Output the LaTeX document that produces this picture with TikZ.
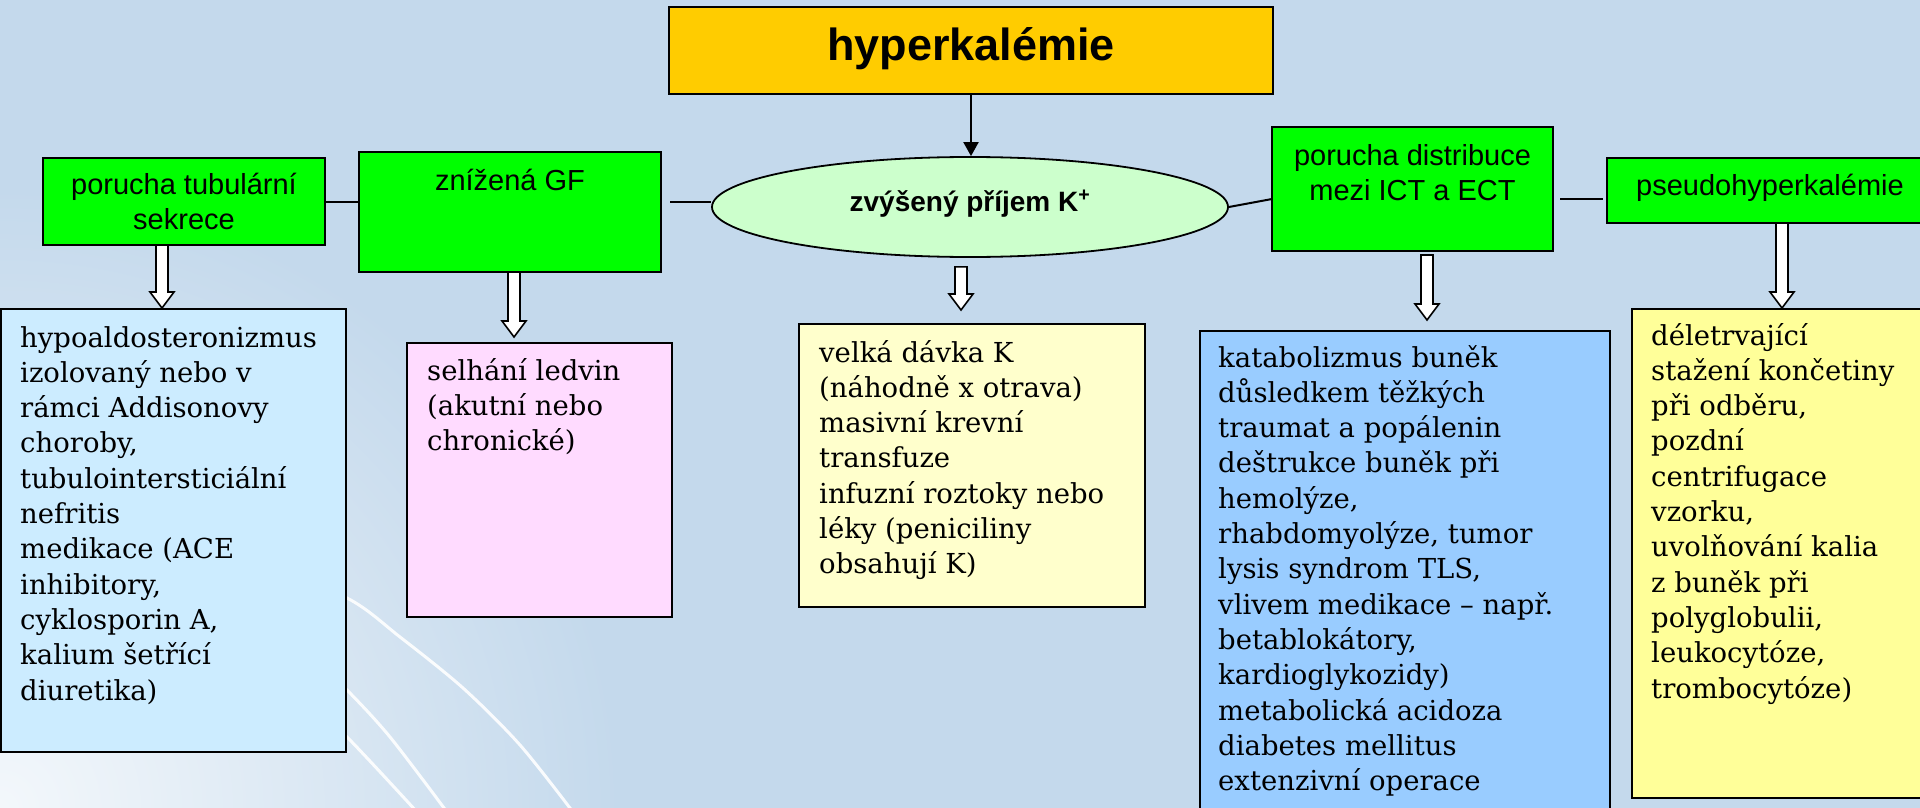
\documentclass[tikz,border=0pt]{standalone}
\usepackage{fontspec}
\setmainfont{DejaVu Serif}
\setsansfont{Liberation Sans}
\usetikzlibrary{calc,arrows.meta,shapes.geometric}
\definecolor{bgc}{RGB}{196,217,236}
\definecolor{titlec}{RGB}{255,204,0}
\definecolor{greenc}{RGB}{0,255,0}
\definecolor{ellc}{RGB}{204,255,204}
\definecolor{boxA}{RGB}{204,236,255}
\definecolor{boxB}{RGB}{255,219,255}
\definecolor{boxC}{RGB}{255,255,204}
\definecolor{boxD}{RGB}{153,204,255}
\definecolor{boxY}{RGB}{255,255,153}
\tikzset{
  box/.style={draw=black, line width=2.2pt, anchor=north west, inner sep=0pt, outer sep=0pt},
  btext/.style={anchor=base west, inner sep=0pt, font=\fontsize{27.5pt}{35.3pt}\selectfont},
  gtext/.style={anchor=base, inner sep=0pt, font=\sffamily\fontsize{29pt}{35pt}\selectfont},
  hollowarrow/.style={draw=black, fill=white, line width=1.6pt, line join=miter},
  conn/.style={draw=black, line width=2pt},
  deco/.style={draw=white, line width=3pt, opacity=0.9},
}
\newcommand{\harrow}[5]{%
  \draw[hollowarrow] let \p1=(#2), \p2=(#4) in
    ({#1pt-6pt},{\y1-#3pt}) -- ({#1pt-6pt},{\y2+#5pt+16pt}) --
    ({#1pt-12pt},{\y2+#5pt+16pt}) -- ({#1pt},{\y2+#5pt}) --
    ({#1pt+12pt},{\y2+#5pt+16pt}) -- ({#1pt+6pt},{\y2+#5pt+16pt}) --
    ({#1pt+6pt},{\y1-#3pt}) -- cycle;}
\begin{document}
\begin{tikzpicture}[x=1pt,y=-1pt]
\useasboundingbox (0,0) rectangle (1920,808);
\clip (0,0) rectangle (1920,808);
\fill[bgc] (0,0) rectangle (1920,808);
\shade[inner color=white!80!bgc, outer color=bgc] (0,808) circle (620);
% background decoration curves
\draw[deco] plot[smooth] coordinates {(250,560) (347,598) (400,637) (463,688) (520,745) (573,812)};
\draw[deco] plot[smooth] coordinates {(300,645) (347,690) (390,737) (447,812)};
\draw[deco] plot[smooth] coordinates {(300,695) (347,737) (417,812)};

% top level
\node[box, fill=titlec, minimum width=604pt, minimum height=87pt] (T) at (669,7) {};
\node[anchor=base, inner sep=0pt, font=\sffamily\bfseries\fontsize{45pt}{54pt}\selectfont] (tT) at ([yshift=-54pt]T.north) {hyperkalémie};

% second level
\node[box, fill=greenc, minimum width=282pt, minimum height=87pt] (G1) at (43,158) {};
\node[box, fill=greenc, minimum width=302pt, minimum height=120pt] (G2) at (359,152) {};
\node[ellipse, draw=black, line width=1.8pt, fill=ellc, minimum width=516pt, minimum height=100pt, inner sep=0pt] (E) at (970,207) {};
\node[box, fill=greenc, minimum width=281pt, minimum height=124pt] (G3) at (1272,127) {};
\node[box, fill=greenc, minimum width=326pt, minimum height=65pt] (G4) at (1607,158) {};

\node[gtext] (tG1) at ([yshift=-36pt]G1.north) {\parbox[t]{282pt}{\centering porucha tubulární\\sekrece}};
\node[gtext] (tG2) at ([yshift=-38pt]G2.north) {znížená GF};
\node[anchor=base, inner sep=0pt, font=\sffamily\bfseries\fontsize{28pt}{34pt}\selectfont] (tE) at ([yshift=-4pt]E.center) {zvýšený příjem K\textsuperscript{+}};
\node[gtext] (tG3) at ([yshift=-38pt]G3.north) {\parbox[t]{281pt}{\centering porucha distribuce\\mezi ICT a ECT}};
\node[gtext] (tG4) at ([yshift=-37pt]G4.north) {pseudohyperkalémie};

% connectors
\draw[conn, -{Triangle[width=15pt,length=14pt]}] (T.south) -- (T.south |- E.north);
\draw[conn] ([yshift=-0.5pt]G1.east) -- ([yshift=-0.5pt]G1.east -| G2.west);
\draw[conn] ([xshift=9pt,yshift=5pt]E.west -| G2.east) -- ([yshift=5pt]E.west);
\draw[conn] (E.east) -- ([yshift=-10pt]G3.west);
\draw[conn] ([xshift=7pt,yshift=-10pt]G3.east) -- ([xshift=-4pt,yshift=-10pt]G3.east -| G4.west);

% bottom boxes
\node[box, fill=boxA, minimum width=345pt, minimum height=443pt] (A) at (1,309) {};
\node[box, fill=boxB, minimum width=265pt, minimum height=274pt] (B) at (407,343) {};
\node[box, fill=boxC, minimum width=346pt, minimum height=283pt] (C) at (799,324) {};
\node[box, fill=boxD, minimum width=410pt, minimum height=500pt] (D) at (1200,331) {};
\node[box, fill=boxY, minimum width=313pt, minimum height=489pt] (Y) at (1632,309) {};

\node[btext] (tA) at ([xshift=19pt,yshift=-38pt]A.north west) {\parbox[t]{400pt}{\raggedright hypoaldosteronizmus\\izolovaný nebo v\\rámci Addisonovy\\choroby,\\tubulointersticiální\\nefritis\\medikace (ACE\\inhibitory,\\cyklosporin A,\\kalium šetřící\\diuretika)}};
\node[btext] (tB) at ([xshift=20pt,yshift=-37pt]B.north west) {\parbox[t]{400pt}{\raggedright selhání ledvin\\(akutní nebo\\chronické)}};
\node[btext] (tC) at ([xshift=20pt,yshift=-38pt]C.north west) {\parbox[t]{400pt}{\raggedright velká dávka K\\(náhodně x otrava)\\masivní krevní\\transfuze\\infuzní roztoky nebo\\léky (peniciliny\\obsahují K)}};
\node[btext] (tD) at ([xshift=18pt,yshift=-36pt]D.north west) {\parbox[t]{400pt}{\raggedright katabolizmus buněk\\důsledkem těžkých\\traumat a popálenin\\deštrukce buněk při\\hemolýze,\\rhabdomyolýze, tumor\\lysis syndrom TLS,\\vlivem medikace – např.\\betablokátory,\\kardioglykozidy)\\metabolická acidoza\\diabetes mellitus\\extenzivní operace}};
\node[btext] (tY) at ([xshift=19pt,yshift=-36pt]Y.north west) {\parbox[t]{400pt}{\raggedright déletrvající\\stažení končetiny\\při odběru,\\pozdní\\centrifugace\\vzorku,\\uvolňování kalia\\z buněk při\\polyglobulii,\\leukocytóze,\\trombocytóze)}};

% hollow arrows
\harrow{162}{G1.south}{0}{A.north}{1}
\harrow{514}{G2.south}{0}{B.north}{6}
\harrow{961}{E.south}{9}{C.north}{14}
\harrow{1427}{G3.south}{4}{D.north}{11}
\harrow{1782}{G4.south}{0}{Y.north}{1}
\end{tikzpicture}
\end{document}
